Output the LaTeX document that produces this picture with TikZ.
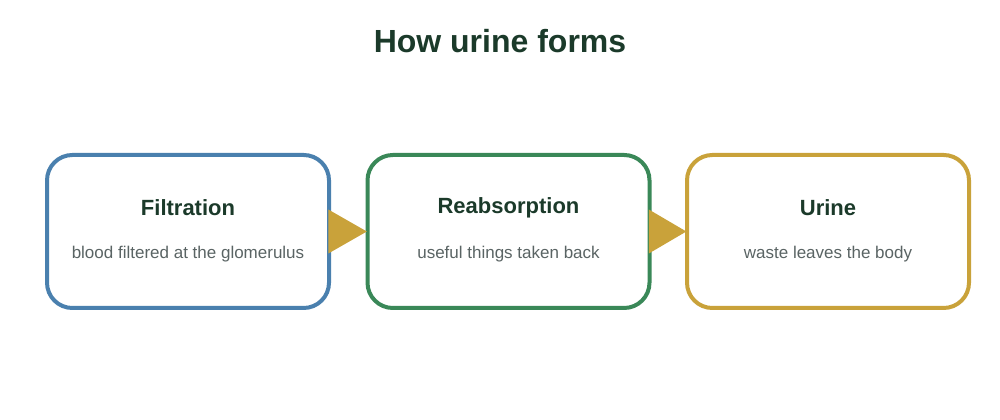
\documentclass[tikz,border=0pt]{standalone}
\usepackage{fontspec}
\setmainfont{Liberation Sans}
\definecolor{cblue}{HTML}{4A80AE}
\definecolor{cgreen}{HTML}{3A8858}
\definecolor{cgold}{HTML}{C9A23A}
\definecolor{ctext}{HTML}{1B3A2A}
\definecolor{csub}{HTML}{5A6464}
\begin{document}
\begin{tikzpicture}[x=0.75pt,y=-0.75pt,
  stagebox/.style={draw=#1,line width=3pt,rounded corners=19pt,minimum width=211.5pt,minimum height=114.75pt,fill=white},
  ttl/.style={font=\bfseries\fontsize{16.5}{20}\selectfont,text=ctext},
  sub/.style={font=\fontsize{12.75}{15}\selectfont,text=csub}]
\useasboundingbox (0,0) rectangle (1000,420);
\node[font=\bfseries\fontsize{24}{28}\selectfont,text=ctext] (title) at (500,41) {How urine forms};
\node[stagebox=cblue] (b1) at (188,231.5) {};
\node[stagebox=cgreen] (b2) at (508.5,231.5) {};
\node[stagebox=cgold] (b3) at (828,231.5) {};
\node[ttl] (t1) at (188,208) {Filtration};
\node[sub] (s1) at (188,254) {blood filtered at the glomerulus};
\node[ttl] (t2) at (508.5,208) {Reabsorption};
\node[sub] (s2) at (508.5,254) {useful things taken back};
\node[ttl] (t3) at (828,208) {Urine};
\node[sub] (s3) at (828,254) {waste leaves the body};
\fill[cgold] ([yshift=16.5pt,xshift=-2pt]b1.east) -- ([xshift=1pt]b2.west) -- ([yshift=-16.5pt,xshift=-2pt]b1.east) -- cycle;
\fill[cgold] ([yshift=16.5pt,xshift=-2pt]b2.east) -- ([xshift=1pt]b3.west) -- ([yshift=-16.5pt,xshift=-2pt]b2.east) -- cycle;
\end{tikzpicture}
\end{document}
